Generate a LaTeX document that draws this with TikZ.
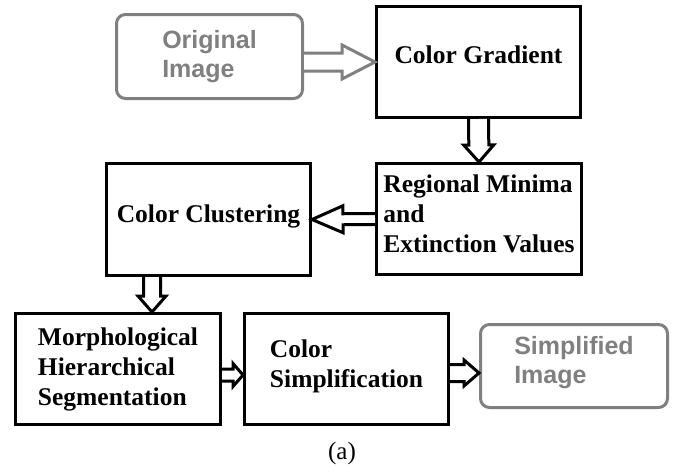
\documentclass[tikz,border=0pt]{standalone}
\usepackage{fontspec}
\setmainfont{Liberation Serif}
\newfontfamily\sansf{Liberation Sans}
\usetikzlibrary{calc}
\definecolor{grayc}{RGB}{128,128,128}
\newcommand\fatarrow[6]{%
  \draw[#1] let \p1=(#2), \p2=(#3),
     \n1={veclen(\x2-\x1,\y2-\y1)},
     \n2={(\x2-\x1)/\n1}, \n3={(\y2-\y1)/\n1} in
     ({\x1-(\n3)*(#4)},{\y1+(\n2)*(#4)})
  -- ({\x2-(\n2)*(#6)-(\n3)*(#4)},{\y2-(\n3)*(#6)+(\n2)*(#4)})
  -- ({\x2-(\n2)*(#6)-(\n3)*(#5)},{\y2-(\n3)*(#6)+(\n2)*(#5)})
  -- (\p2)
  -- ({\x2-(\n2)*(#6)+(\n3)*(#5)},{\y2-(\n3)*(#6)-(\n2)*(#5)})
  -- ({\x2-(\n2)*(#6)+(\n3)*(#4)},{\y2-(\n3)*(#6)-(\n2)*(#4)})
  -- ({\x1+(\n3)*(#4)},{\y1-(\n2)*(#4)});%
}
\begin{document}
\begin{tikzpicture}[x=1pt,y=-1pt,
  blackbox/.style={draw=black, line width=3pt, rectangle, inner sep=0pt,
    font=\bfseries\fontsize{25.5}{30}\selectfont, align=left},
  graybox/.style={draw=grayc, line width=3pt, rectangle, rounded corners=9pt, inner sep=0pt,
    text=grayc, font=\sansf\bfseries\fontsize{25}{29}\selectfont, align=left},
  blackarrow/.style={draw=black, line width=3pt, fill=white},
  grayarrow/.style={draw=grayc, line width=3pt, fill=white}]
\useasboundingbox (0,0) rectangle (687,471);
\fill[white] (0,0) rectangle (687,471);

\node[graybox, minimum width=186pt, minimum height=84pt] (orig) at (209.5,56.5) {Original\\Image};
\node[blackbox, minimum width=204pt, minimum height=111pt, text depth=15.4pt] (grad) at (478.5,62) {Color Gradient};
\node[blackbox, minimum width=205pt, minimum height=111pt, text depth=11.5pt] (reg) at (479,219) {Regional Minima\\and\\Extinction Values};
\node[blackbox, minimum width=204pt, minimum height=112pt, text depth=11pt] (clus) at (208.5,219.5) {Color Clustering};
\node[blackbox, minimum width=205pt, minimum height=111pt] (morph) at (118,369) {Morphological\\Hierarchical\\Segmentation};
\node[blackbox, minimum width=204pt, minimum height=111pt, text depth=11.6pt] (simp) at (346.5,369) {Color\\Simplification};
\node[graybox, minimum width=187pt, minimum height=83pt, text depth=11.3pt] (simpd) at (574,366) {Simplified\\Image};
\node[font=\fontsize{25}{30}\selectfont, inner sep=0pt] (cap) at (342,453) {(a)};

\fatarrow{grayarrow}{orig.east |- grad.center}{grad.west}{9}{17}{33}
\fatarrow{blackarrow}{grad.south}{reg.north}{10}{15}{17}
\fatarrow{blackarrow}{reg.west}{clus.east}{5.5}{13.5}{31}
\fatarrow{blackarrow}{clus.south -| 152,0}{morph.north -| 152,0}{8.5}{14}{16}
\fatarrow{blackarrow}{morph.east |- 0,375}{simp.west |- 0,375}{6}{11.5}{10}
\fatarrow{blackarrow}{simp.east |- 0,373}{simpd.west |- 0,373}{8.5}{13}{15}
\end{tikzpicture}
\end{document}
